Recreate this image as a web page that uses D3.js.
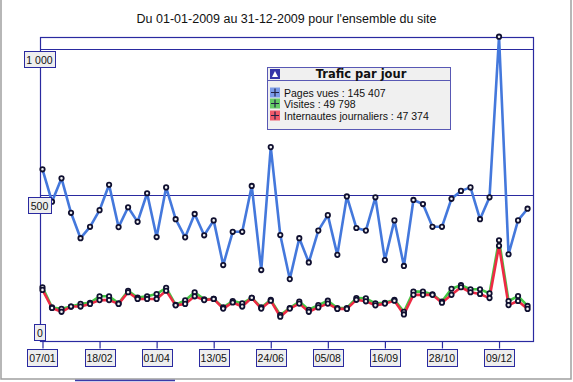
<!DOCTYPE html>
<html><head><meta charset="utf-8">
<script src="https://cdn.jsdelivr.net/npm/d3@7"></script>
<style>body{margin:0;background:#fff}svg{display:block}</style>
</head><body>
<svg id="c" width="573" height="382"></svg>
<script>
const title = "Du 01-01-2009 au 31-12-2009 pour l'ensemble du site";
const firstWeek = "07/01/2009";
const tickLabels = ["07/01","18/02","01/04","13/05","24/06","05/08","16/09","28/10","09/12"];
const yTicks = [0, 500, 1000];
const pagesVues = [588,477,557,439,352,391,448,535,390,458,408,506,356,526,417,355,435,362,413,260,374,374,531,243,664,363,
                   212,352,269,378,431,295,495,387,378,492,277,413,257,483,469,391,391,487,514,526,417,492,1042,297,413,453];
const visites = [184,115,110,118,127,131,153,153,129,172,149,153,161,182,124,139,167,143,144,115,137,129,148,115,141,89,
                 113,135,107,123,138,113,113,147,146,129,131,141,100,169,169,160,135,179,191,177,177,163,345,137,154,120];
const internautes = [175,113,100,118,118,127,140,140,127,167,144,144,144,172,122,127,153,140,144,111,132,118,148,111,138,83,
                     111,128,100,115,128,110,110,141,136,122,128,138,91,158,158,158,131,158,184,167,161,147,326,123,137,110];
const legendTitle = "Trafic par jour";
const legendItems = ["Pages vues : 145 407","Visites : 49 798","Internautes journaliers : 47 374"];

const svg = d3.select("#c");
const parse = d3.timeParse("%d/%m/%Y");
const start = parse(firstWeek);
const dates = d3.range(pagesVues.length).map(i => d3.timeDay.offset(start, 7*i));

const L = 40, R = 533, T = 37, B = 341;
const x = d3.scaleTime()
  .domain([d3.timeHour.offset(start, -44), d3.timeDay.offset(start, 361)])
  .range([L, R]);
const y = d3.scaleLinear().domain([0, 1041]).range([B, T]);

const axisCol = "#2a2aa0";
const font = "Liberation Sans, Arial, sans-serif";

// page border
svg.append("path").attr("d","M1,0V379H571V0").attr("fill","none").attr("stroke","#a0a0a0").attr("stroke-width",1.5);
svg.append("line").attr("x1",75).attr("x2",175).attr("y1",380.5).attr("y2",380.5).attr("stroke","#3a3aa8").attr("stroke-width",1.5);

// title
svg.append("text").attr("x", (L+R)/2).attr("y", 23).attr("text-anchor","middle")
  .attr("font-family", font).attr("font-size", 12.5).attr("fill","#111").text(title);

// frame
svg.append("rect").attr("x",L+0.5).attr("y",T+0.5).attr("width",R-L).attr("height",B-T)
  .attr("fill","none").attr("stroke",axisCol).attr("stroke-width",1.2);
// gridlines
yTicks.filter(v => v > 0).forEach(v => {
  svg.append("line").attr("x1",L).attr("x2",R).attr("y1",Math.round(y(v))+0.5).attr("y2",Math.round(y(v))+0.5)
    .attr("stroke",axisCol).attr("stroke-width",1.2);
});

// x ticks
const tickDates = tickLabels.map(s => parse(s + "/2009"));
const xAxis = d3.axisBottom(x).tickValues(tickDates).tickSize(7).tickFormat("");
const gx = svg.append("g").attr("transform",`translate(0,${B+0.5})`).call(xAxis);
gx.select(".domain").remove();
gx.selectAll(".tick line").attr("stroke",axisCol).attr("stroke-width",1.2);
tickDates.forEach((d,i) => {
  const cx = x(d);
  svg.append("rect").attr("x",Math.round(cx-15)+0.5).attr("y",349.5).attr("width",30).attr("height",17)
    .attr("fill","#eeeeee").attr("stroke",axisCol);
  svg.append("text").attr("x",cx).attr("y",362).attr("text-anchor","middle")
    .attr("font-family",font).attr("font-size",10.5).attr("fill","#111").text(tickLabels[i]);
});

// lines
function series(vals, color, w) {
  const pts = vals.map((v,i) => [x(dates[i]), y(v)]);
  svg.append("path").attr("d", d3.line()(pts)).attr("fill","none").attr("stroke",color)
    .attr("stroke-width",w).attr("stroke-linejoin","round");
  return pts;
}
function markers(pts) {
  svg.append("g").selectAll("circle").data(pts).join("circle")
    .attr("cx",d=>d[0]).attr("cy",d=>d[1]).attr("r",2.2)
    .attr("fill","#f4f4f4").attr("stroke","#101030").attr("stroke-width",1.8);
}
const pg = series(visites, "#44c844", 2.6);
const pr = series(internautes, "#ee2a44", 2.6);
markers(pg); markers(pr);
const pb = series(pagesVues, "#4478dc", 2.6);
markers(pb);

// y labels
const fmt = v => d3.format(",")(v).replace(/,/g, " ");
yTicks.forEach(v => {
  const t = fmt(v);
  const w = v === 0 ? 11 : (v === 500 ? 23 : 31);
  const yy = v === 0 ? B - 17 : Math.round(y(v)) + 1.5;
  svg.append("rect").attr("x",Math.round(39.5 - w/2)+0.5).attr("y",Math.round(yy)+0.5).attr("width",w).attr("height",16)
    .attr("fill","#eeeeee").attr("stroke",axisCol);
  svg.append("text").attr("x",39.5+ (v===0?0.5:0)).attr("y",Math.round(yy)+12.5).attr("text-anchor","middle")
    .attr("font-family",font).attr("font-size",10.5).attr("fill","#111").text(t);
});

// legend
const lg = svg.append("g");
const lx = 267, ly = 67, lw = 183, lh = 62;
const lcol = "#5858b4";
lg.append("rect").attr("x",lx+0.5).attr("y",ly+0.5).attr("width",lw).attr("height",lh).attr("fill","#f0f0f0").attr("stroke",lcol);
lg.append("line").attr("x1",lx).attr("x2",lx+lw).attr("y1",ly+13.5).attr("y2",ly+13.5).attr("stroke",lcol);
lg.append("rect").attr("x",lx+3).attr("y",ly+2).attr("width",10).attr("height",10).attr("fill","#3434a8");
lg.append("path").attr("d",`M${lx+5},${ly+10}L${lx+8},${ly+4}L${lx+11},${ly+10}Z`).attr("fill","#fff");
lg.append("text").attr("x",361).attr("y",ly+11).attr("text-anchor","middle")
  .attr("font-family","DejaVu Sans, Verdana, sans-serif").attr("font-weight","bold").attr("font-size",11.5)
  .attr("fill","#111").text(legendTitle);
const icCols = ["#7b9be8","#66cc66","#f05a6a"];
const rowY = [92.5, 103.5, 115.5];
legendItems.forEach((s,i) => {
  const cy = rowY[i];
  lg.append("rect").attr("x",lx+3).attr("y",cy-5).attr("width",10).attr("height",10).attr("fill",icCols[i]);
  lg.append("path").attr("d",`M${lx+8},${cy-4}V${cy+4}M${lx+4},${cy}H${lx+12}`).attr("stroke","#222244").attr("stroke-width",1.2);
  lg.append("text").attr("x",lx+17).attr("y",cy+4).attr("font-family",font).attr("font-size",10.5)
    .attr("fill","#111").text(s);
});
</script>
</body></html>
